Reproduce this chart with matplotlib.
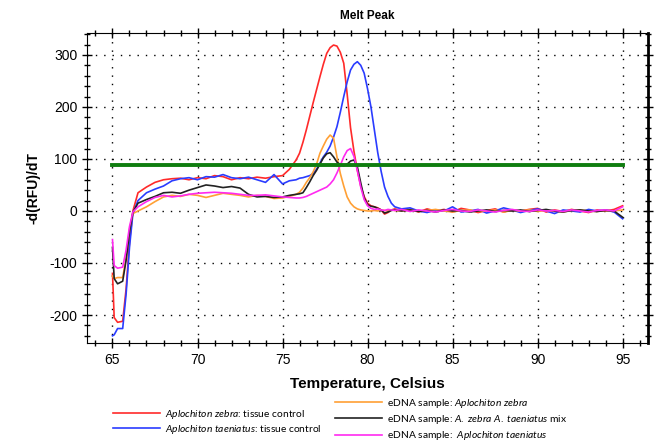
import numpy as np
import matplotlib
matplotlib.use("Agg")
import matplotlib.pyplot as plt
from matplotlib.ticker import MultipleLocator

plt.rcParams['font.family'] = ['Liberation Sans', 'DejaVu Sans']
plt.rcParams['axes.unicode_minus'] = False
plt.rcParams['mathtext.fontset'] = 'custom'
plt.rcParams['mathtext.rm'] = 'Lato'
plt.rcParams['mathtext.it'] = 'Lato:italic'

# temperature grid (Celsius), denser around the melt peaks
temps = [65.0, 65.1, 65.3, 65.6, 65.8, 66.0, 66.2, 66.5, 67.0, 67.5, 68.0, 68.5, 69.0,
         69.5, 70.0, 70.5, 71.0, 71.5, 72.0, 72.5, 73.0, 73.5, 74.0, 74.5, 75.0, 75.4,
         75.8, 76.0, 76.2, 76.4, 76.6, 76.8, 77.0, 77.2, 77.4, 77.6, 77.8, 78.0, 78.2,
         78.4, 78.6, 78.8, 79.0, 79.2, 79.4, 79.6, 79.8, 80.0, 80.2, 80.4, 80.6, 80.8,
         81.0, 81.2, 81.4, 81.6,
         82.0, 82.5, 83.0, 83.5, 84.0, 84.5, 85.0, 85.5, 86.0, 86.5, 87.0, 87.5, 88.0,
         88.5, 89.0, 89.5, 90.0, 90.5, 91.0, 91.5, 92.0, 92.5, 93.0, 93.5, 94.0, 94.5, 95.0]

# -d(RFU)/dT for each sample
zebra_tissue = [-120, -205, -214, -212, -150, -60, 0, 35, 46, 55, 60, 62, 63,
                60, 64, 62, 68, 66, 60, 64, 62, 65, 63, 66, 68, 80,
                98, 111, 132, 156, 182, 208, 233, 258, 282, 303, 314, 319, 317,
                305, 284, 225, 160, 115, 78, 48, 28, 15, 10, 8, 6, 2,
                -6, -3, 2, 4,
                1, 3, -2, 4, 0, 3, -2, 5, 2, -3, 1, 4, -2,
                2, 0, 3, 5, -2, 2, -1, 3, 0, -3, 2, 0, 3, 10]

taeniatus_tissue = [-240, -238, -226, -226, -160, -70, -5, 20, 35, 42, 48, 58, 62,
                    64, 60, 66, 65, 70, 64, 62, 65, 60, 55, 70, 52, 58,
                    60, 63, 64, 66, 68, 72, 80, 92, 104, 113, 125, 142, 162,
                    190, 220, 248, 271, 282, 287, 280, 265, 235, 200, 156, 112, 76,
                    46, 28, 15, 8,
                    4, 6, 0, -3, 2, 0, 8, -2, 0, 3, -4, 0, 6,
                    2, -3, 1, 4, 0, -5, 2, 0, -2, 3, 0, 2, -2, -15]

edna_zebra = [-125, -130, -128, -128, -90, -35, -5, 0, 8, 18, 27, 30, 28,
              32, 30, 26, 30, 34, 32, 30, 27, 30, 28, 24, 25, 28,
              32, 36, 44, 55, 64, 75, 90, 111, 125, 138, 146, 140, 104,
              72, 48, 27, 15, 8, 4, 2, 1, 0, 0, 1, 0, 2,
              1, 0, 2, 1,
              0, 2, -1, 1, 3, 0, -2, 1, 2, -1, 0, 2, -2,
              1, 0, 2, -1, 1, 0, -2, 1, 2, 0, -1, 1, 0, 2]

edna_mix = [-70, -130, -140, -135, -95, -40, -3, 15, 22, 28, 35, 36, 34,
            40, 45, 50, 48, 45, 47, 44, 32, 27, 28, 26, 27, 30,
            32, 33, 35, 45, 56, 68, 78, 90, 102, 110, 112, 104, 94,
            89, 87, 90, 96, 98, 85, 54, 25, 12, 9, 8, 5, 2,
            -4, -2, 1, 2,
            0, 2, -1, 1, -2, 2, 0, 1, -2, 0, 2, -1, 1,
            0, 2, -1, 1, 3, 0, -2, 1, 2, 0, -1, 1, 0, -12]

edna_taeniatus = [-55, -105, -110, -108, -75, -30, -2, 8, 18, 26, 30, 27, 29,
                  32, 34, 35, 36, 35, 34, 32, 30, 30, 31, 29, 27, 26,
                  25, 25, 26, 28, 31, 34, 37, 40, 43, 46, 52, 60, 73,
                  88, 104, 116, 120, 105, 78, 46, 22, 10, 5, 3, 4, 2,
                  1, 3, 2, 1,
                  3, -1, 2, 0, -2, 1, 3, 0, -1, 2, 0, -2, 1,
                  3, 0, -1, 2, 0, 1, -1, 2, 0, -2, 1, 2, 0, 8]

threshold = 88

fig = plt.figure(figsize=(6.54, 4.41), dpi=100)
ax = fig.add_axes([0.133, 0.222, 0.858, 0.703])

ax.plot(temps, zebra_tissue, color='#ff2a2a', lw=1.2,
        label=r'$\mathit{Aplochiton\ zebra}$: tissue control')
ax.plot(temps, taeniatus_tissue, color='#2a3cff', lw=1.2,
        label=r'$\mathit{Aplochiton\ taeniatus}$: tissue control')
ax.plot(temps, edna_zebra, color='#ffa035', lw=1.2,
        label=r'eDNA sample: $\mathit{Aplochiton\ zebra}$')
ax.plot(temps, edna_mix, color='#222222', lw=1.2,
        label=r'eDNA sample: $\mathit{A.\ zebra\ A.\ taeniatus}$ mix')
ax.plot(temps, edna_taeniatus, color='#ff2af0', lw=1.2,
        label=r'eDNA sample:  $\mathit{Aplochiton\ taeniatus}$')
ax.plot([temps[0], temps[-1]], [threshold, threshold], color='#0f7d0f', lw=2.8)

ax.set_xlim(63.5, 96.5)
ax.set_ylim(-254, 342)
ax.xaxis.set_major_locator(MultipleLocator(5))
ax.xaxis.set_minor_locator(MultipleLocator(1))
ax.yaxis.set_major_locator(MultipleLocator(100))
ax.yaxis.set_minor_locator(MultipleLocator(20))
ax.tick_params(which='both', direction='inout', top=True, right=True, labelsize=10)
ax.tick_params(which='major', length=7, width=1)
ax.tick_params(which='minor', length=5, width=1)
ax.grid(True, which='major', color='black', linestyle=(0, (1, 5)), lw=1)
ax.spines['right'].set_linewidth(2)

ax.set_title('Melt Peak', fontsize=8.5, fontweight='bold', pad=10)
ax.set_xlabel('Temperature, Celsius', fontsize=11, fontweight='bold', labelpad=7)
ax.set_ylabel('-d(RFU)/dT', fontsize=10, fontweight='bold', labelpad=6)

h, l = ax.get_legend_handles_labels()
leg_kw = dict(frameon=False, prop={'family': 'Lato', 'size': 7.4}, handlelength=4.6,
              handletextpad=0.5, borderpad=0, borderaxespad=0)
fig.legend(h[:2], l[:2], loc='upper left', bbox_to_anchor=(113 / 654, 1 - 408 / 441),
           labelspacing=0.15, **leg_kw)
fig.legend(h[2:], l[2:], loc='upper left', bbox_to_anchor=(335 / 654, 1 - 397 / 441),
           labelspacing=0.3, **leg_kw)

fig.savefig('out.png', dpi=100)
